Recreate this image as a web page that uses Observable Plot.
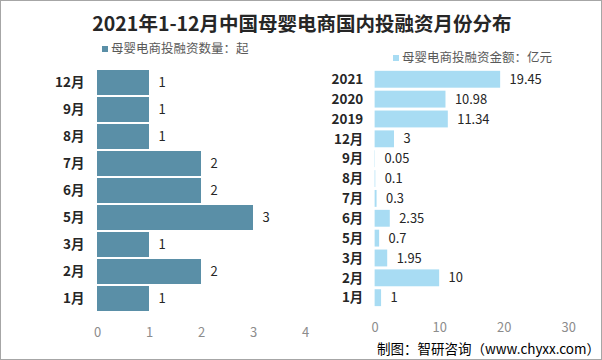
<!DOCTYPE html>
<html>
<head>
<meta charset="utf-8">
<script src="https://cdn.jsdelivr.net/npm/d3@7"></script>
<script src="https://cdn.jsdelivr.net/npm/@observablehq/plot@0.6"></script>
<style>
  html, body { margin: 0; padding: 0; background: #fff; }
  #frame { position: relative; width: 602px; height: 360px; box-sizing: border-box; border: 1px solid #a6a6a6; overflow: hidden; font-family: "Noto Sans CJK SC", "Noto Sans", sans-serif; }
  #title { position: absolute; left: 0; width: 602px; top: 7px; text-align: center; font-size: 19.5px; font-weight: bold; color: #262626; letter-spacing: 0px; }
  .legend { position: absolute; font-size: 12.5px; color: #595959; white-space: nowrap; }
  .legend .sw { display: inline-block; width: 6px; height: 6px; margin-right: 3px; vertical-align: middle; position: relative; top: -1px; }
  #left { position: absolute; left: 0; top: 45px; }
  #right { position: absolute; left: 320px; top: 45px; }
  #caption { position: absolute; right: 1px; bottom: 1px; font-size: 13.5px; color: #000; white-space: nowrap; }
</style>
</head>
<body>
<div id="frame">
  <div id="title">2021年1-12月中国母婴电商国内投融资月份分布</div>
  <div class="legend" style="left:101px; top:37px;"><span class="sw" style="background:#5a8fa7"></span>母婴电商投融资数量：起</div>
  <div class="legend" style="left:392px; top:46px;"><span class="sw" style="background:#a8dcf3"></span>母婴电商投融资金额：亿元</div>
  <div id="left"></div>
  <div id="right"></div>
  <div id="caption">制图：智研咨询（www.chyxx.com）</div>
</div>
<script>
const leftCats = ["12月","9月","8月","7月","6月","5月","3月","2月","1月"];
const leftVals = [1,1,1,2,2,3,1,2,1];
const leftTicks = [0,1,2,3,4];

const rightCats = ["2021","2020","2019","12月","9月","8月","7月","6月","5月","3月","2月","1月"];
const rightVals = [19.45,10.98,11.34,3,0.05,0.1,0.3,2.35,0.7,1.95,10,1];
const rightTicks = [0,10,20,30];

const leftData = leftCats.map((c, i) => ({cat: c, v: leftVals[i]}));
const rightData = rightCats.map((c, i) => ({cat: c, v: rightVals[i]}));

const font = "'Noto Sans CJK SC', 'Noto Sans', sans-serif";

const leftPlot = Plot.plot({
  width: 320, height: 300,
  marginLeft: 96, marginRight: 16, marginTop: 17, marginBottom: 29,
  style: {fontFamily: font, fontSize: "13px", color: "#333", background: "transparent"},
  x: {domain: [0, 4], ticks: leftTicks},
  y: {domain: leftCats, padding: 0.08},
  marks: [
    Plot.gridX(leftTicks.slice(1), {stroke: "#d9d9d9", strokeOpacity: 1, y1: 8, y2: 273}),
    Plot.barX(leftData, {x: "v", y: "cat", fill: "#5a8fa7"}),
    Plot.text(leftData, {x: "v", y: "cat", text: d => String(d.v), textAnchor: "start", dx: 9, fill: "#262626", fontSize: 13}),
    Plot.axisX(leftTicks, {tickSize: 0, tickPadding: 10, fill: "#8c8c8c", fontSize: 13, label: null}),
    Plot.axisY({tickSize: 0, tickPadding: 13, fontWeight: "bold", fill: "#262626", fontSize: 13.5, label: null})
  ]
});
document.getElementById("left").appendChild(leftPlot);

const rightPlot = Plot.plot({
  width: 282, height: 300,
  marginLeft: 54, marginRight: 33, marginTop: 18, marginBottom: 31,
  style: {fontFamily: font, fontSize: "13px", color: "#333", background: "transparent"},
  x: {domain: [0, 30], ticks: rightTicks},
  y: {domain: rightCats, padding: 0.13},
  marks: [
    Plot.gridX(rightTicks.slice(1), {stroke: "#d9d9d9", strokeOpacity: 1, y1: 14, y2: 271}),
    Plot.barX(rightData, {x: "v", y: "cat", fill: "#a8dcf3"}),
    Plot.text(rightData, {x: "v", y: "cat", text: d => String(d.v), textAnchor: "start", dx: 9, fill: "#262626", fontSize: 13}),
    Plot.axisX(rightTicks, {tickSize: 0, tickPadding: 9, fill: "#8c8c8c", fontSize: 13, label: null}),
    Plot.axisY({tickSize: 0, tickPadding: 12, fontWeight: "bold", fill: "#262626", fontSize: 13.5, label: null})
  ]
});
document.getElementById("right").appendChild(rightPlot);
</script>
</body>
</html>
